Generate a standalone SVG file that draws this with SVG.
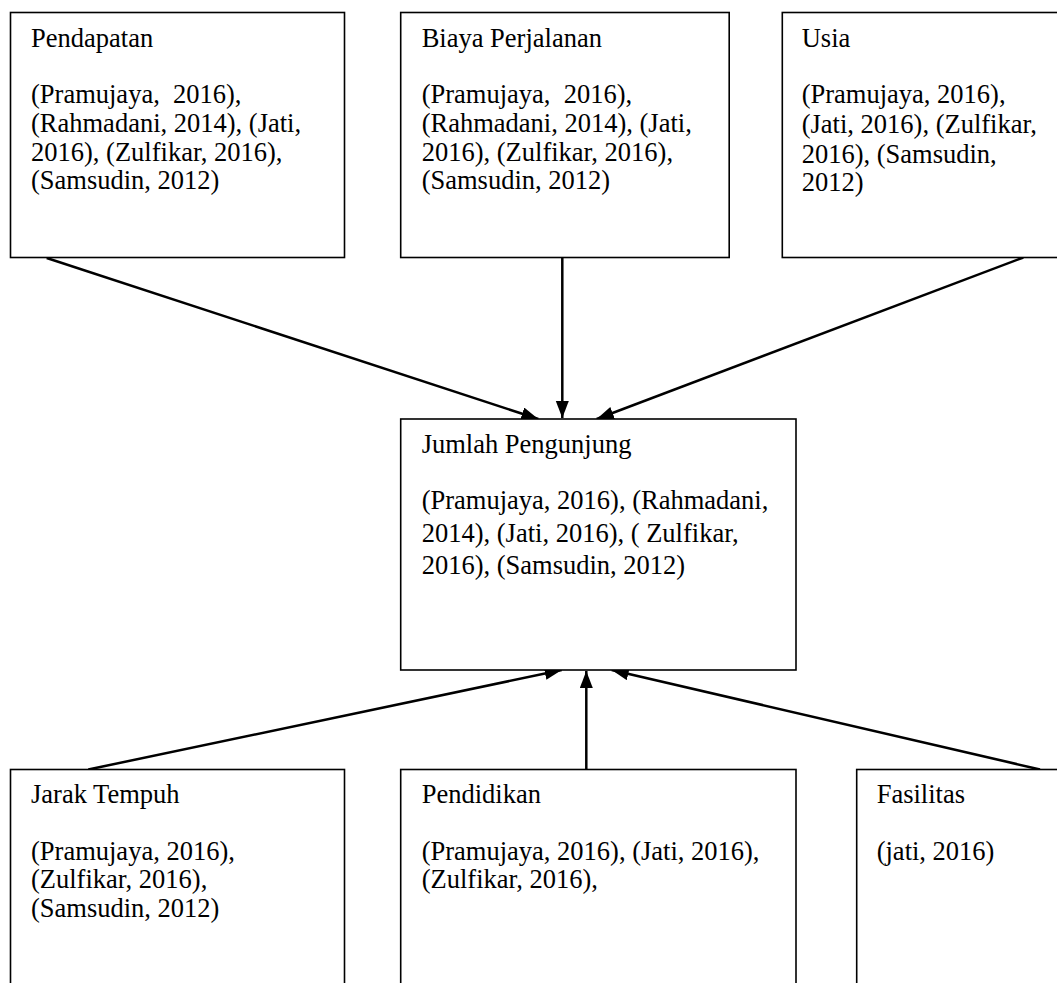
<svg xmlns="http://www.w3.org/2000/svg" width="1057" height="983" viewBox="0 0 1057 983">
<style>
.box{fill:#fff;stroke:#000;stroke-width:1.6}
text{font-family:"Liberation Serif","Times New Roman",serif;font-size:26.5px;fill:#000;white-space:pre}
.con{stroke:#000;stroke-width:2.5;fill:none;marker-end:url(#ah)}
</style>
<defs>
<marker id="ah" markerUnits="userSpaceOnUse" markerWidth="18" markerHeight="14" refX="17" refY="6.5" orient="auto">
<path d="M0,0 L17,6.5 L0,13 z" fill="#000"/>
</marker>
</defs>
<rect width="1057" height="983" fill="#fff"/>
<g id="connectors">
<line class="con" x1="46.7" y1="258" x2="538.3" y2="419"/>
<line class="con" x1="562.3" y1="258" x2="562.3" y2="418"/>
<line class="con" x1="1023.3" y1="257.5" x2="596.7" y2="419"/>
<line class="con" x1="88.3" y1="769.5" x2="561.7" y2="670"/>
<line class="con" x1="586.3" y1="769.5" x2="586.3" y2="671"/>
<line class="con" x1="1040" y1="769.5" x2="611.7" y2="670"/>
</g>
<g id="pendapatan">
<rect class="box" x="10.5" y="12.5" width="334" height="245"/>
<text x="31" y="46.7">Pendapatan</text>
<text x="31" y="103.3">(Pramujaya,  2016),</text>
<text x="31" y="132.3">(Rahmadani, 2014), (Jati,</text>
<text x="31" y="161">2016), (Zulfikar, 2016),</text>
<text x="31" y="189.3">(Samsudin, 2012)</text>
</g>
<g id="biaya">
<rect class="box" x="400.7" y="12.5" width="328.5" height="245"/>
<text x="421.7" y="46.7">Biaya Perjalanan</text>
<text x="421.7" y="103.3">(Pramujaya,  2016),</text>
<text x="421.7" y="132.3">(Rahmadani, 2014), (Jati,</text>
<text x="421.7" y="161">2016), (Zulfikar, 2016),</text>
<text x="421.7" y="189.3">(Samsudin, 2012)</text>
</g>
<g id="usia">
<rect class="box" x="782.3" y="12.5" width="300" height="245"/>
<text x="801.7" y="46.7">Usia</text>
<text x="801.7" y="103.3">(Pramujaya, 2016),</text>
<text x="801.7" y="132.7">(Jati, 2016), (Zulfikar,</text>
<text x="801.7" y="163">2016), (Samsudin,</text>
<text x="801.7" y="190.5">2012)</text>
</g>
<g id="jumlah">
<rect class="box" x="400.7" y="419" width="395.3" height="251"/>
<text x="421.7" y="453.3">Jumlah Pengunjung</text>
<text x="421.7" y="509.3">(Pramujaya, 2016), (Rahmadani,</text>
<text x="421.7" y="542.3">2014), (Jati, 2016), ( Zulfikar,</text>
<text x="421.7" y="574.3">2016), (Samsudin, 2012)</text>
</g>
<g id="jarak">
<rect class="box" x="10.5" y="769.5" width="334" height="260"/>
<text x="31" y="803.3">Jarak Tempuh</text>
<text x="31" y="860">(Pramujaya, 2016),</text>
<text x="31" y="888.3">(Zulfikar, 2016),</text>
<text x="31" y="916.7">(Samsudin, 2012)</text>
</g>
<g id="pendidikan">
<rect class="box" x="400.7" y="769.5" width="395.3" height="260"/>
<text x="421.7" y="803.3">Pendidikan</text>
<text x="421.7" y="860">(Pramujaya, 2016), (Jati, 2016),</text>
<text x="421.7" y="888.3">(Zulfikar, 2016),</text>
</g>
<g id="fasilitas">
<rect class="box" x="856.7" y="769.5" width="260" height="260"/>
<text x="876.7" y="803.3">Fasilitas</text>
<text x="876.7" y="860">(jati, 2016)</text>
</g>
</svg>
